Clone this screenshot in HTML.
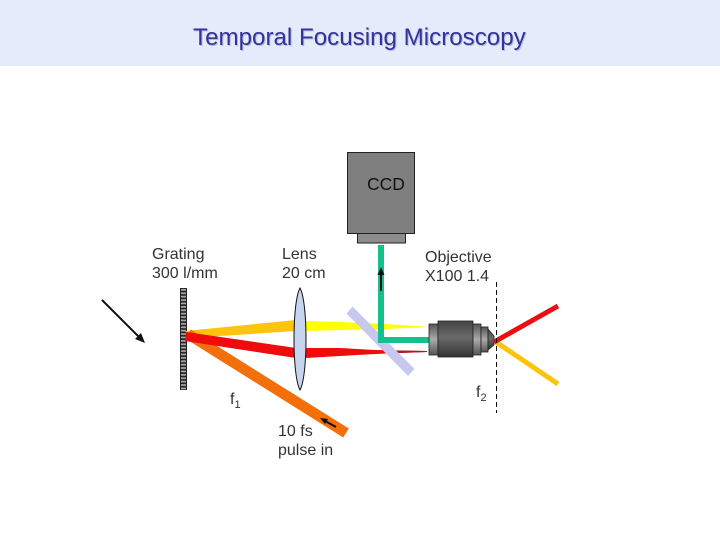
<!DOCTYPE html>
<html>
<head>
<meta charset="utf-8">
<style>
html,body{margin:0;padding:0;background:#fff}
svg{display:block}
text{font-family:"Liberation Sans",sans-serif;font-size:16px;fill:#333}
</style>
</head>
<body>
<svg width="720" height="540" viewBox="0 0 720 540" xmlns="http://www.w3.org/2000/svg">
<defs>
<linearGradient id="obj" x1="0" y1="0" x2="0" y2="1">
<stop offset="0" stop-color="#444"/><stop offset=".45" stop-color="#6a6a6a"/><stop offset="1" stop-color="#333"/>
</linearGradient>
<linearGradient id="objl" x1="0" y1="0" x2="0" y2="1">
<stop offset="0" stop-color="#555"/><stop offset=".5" stop-color="#aaa"/><stop offset="1" stop-color="#555"/>
</linearGradient>
<pattern id="gr" x="180" y="288" width="7" height="3.400" patternUnits="userSpaceOnUse">
<rect width="7" height="3.400" fill="#222"/><rect x="1" y="1" width="5" height="1.700" fill="#aaa"/>
</pattern>
</defs>
<rect x="0" y="0" width="720" height="66" fill="#e4ebfa"/>
<text x="194" y="46" style="font-size:24.150px;fill:#b4b8e0">Temporal Focusing Microscopy</text>
<text x="193" y="45" style="font-size:24.150px;fill:#333399">Temporal Focusing Microscopy</text>

<!-- CCD -->
<rect x="357.500" y="233" width="48" height="10" fill="#8c8c8c" stroke="#222" stroke-width="1"/>
<rect x="347.500" y="152.500" width="67" height="81" fill="#7f7f7f" stroke="#222" stroke-width="1"/>
<text x="367" y="190" style="font-size:17.500px;fill:#111">CCD</text>

<!-- Labels -->
<text x="152" y="259">Grating</text>
<text x="152" y="278">300 l/mm</text>
<text x="282" y="259">Lens</text>
<text x="282" y="278">20 cm</text>
<text x="425" y="262">Objective</text>
<text x="425" y="281">X100 1.4</text>
<text x="278" y="436">10 fs</text>
<text x="278" y="455">pulse in</text>
<text x="230" y="404">f<tspan dy="4" style="font-size:11px">1</tspan></text>
<text x="476" y="397">f<tspan dy="4" style="font-size:11px">2</tspan></text>

<!-- Grating -->
<rect x="180" y="288" width="7" height="102" fill="url(#gr)"/>

<!-- Input arrow -->
<line x1="102" y1="300" x2="140" y2="338" stroke="#111" stroke-width="2"/>
<polygon points="145,343 135,339 141,333" fill="#111"/>

<!-- Beams -->
<polygon points="185,331 296,320 296,331 190,338" fill="#fcc40c"/>
<polygon points="306,321 340,322 385,324 430,327 385,329 340,330 306,331" fill="#ffff00"/>
<line x1="188" y1="334" x2="346" y2="433" stroke="#f26f0a" stroke-width="10.500"/>
<polygon points="186,332 296,348 296,358 185,341" fill="#ee0c0c"/>
<polygon points="306,348 340,348 375,350 427,351 427,352 375,354 340,356 306,358" fill="#ee0c0c"/>
<polygon points="398,350.500 427,351 427,352 398,353" fill="#a02020"/>

<!-- Lens -->
<path d="M300,288 C308,302 308,376 300,390 C292,376 292,302 300,288 Z" fill="#c6d4ee" stroke="#111" stroke-width="1"/>

<!-- Mirror -->
<polygon points="346.500,313.500 352.500,306.500 414.500,369 408,376" fill="#c8c8ee"/>

<!-- Green beam -->
<path d="M381,245 V340 H430" fill="none" stroke="#14c08c" stroke-width="6"/>
<line x1="381" y1="291" x2="381" y2="274" stroke="#111" stroke-width="2"/>
<polygon points="381,267 377.500,275 384.500,275" fill="#111"/>

<!-- Small arrow on pulse -->
<line x1="336" y1="427" x2="325" y2="421" stroke="#111" stroke-width="2"/>
<polygon points="320,418 328,419 325,424" fill="#111"/>

<!-- Objective -->
<rect x="429" y="324" width="9" height="31" fill="url(#objl)" stroke="#222" stroke-width=".8"/>
<rect x="438" y="321" width="35" height="36" fill="url(#obj)" stroke="#222" stroke-width=".8"/>
<rect x="473" y="324" width="8" height="31" fill="url(#objl)" stroke="#222" stroke-width=".8"/>
<rect x="481" y="327" width="7" height="25" fill="url(#objl)" stroke="#222" stroke-width=".8"/>
<polygon points="488,329 494,336 494,345 488,350" fill="url(#obj)" stroke="#222" stroke-width=".8"/>

<!-- Output beams -->
<line x1="496" y1="342" x2="558" y2="384" stroke="#fcc40c" stroke-width="5"/>
<line x1="494" y1="342" x2="558" y2="306" stroke="#e81010" stroke-width="5"/>

<!-- Focal plane -->
<line x1="496.500" y1="282" x2="496.500" y2="413" stroke="#111" stroke-width="1" stroke-dasharray="5,3"/>
</svg>
</body>
</html>
